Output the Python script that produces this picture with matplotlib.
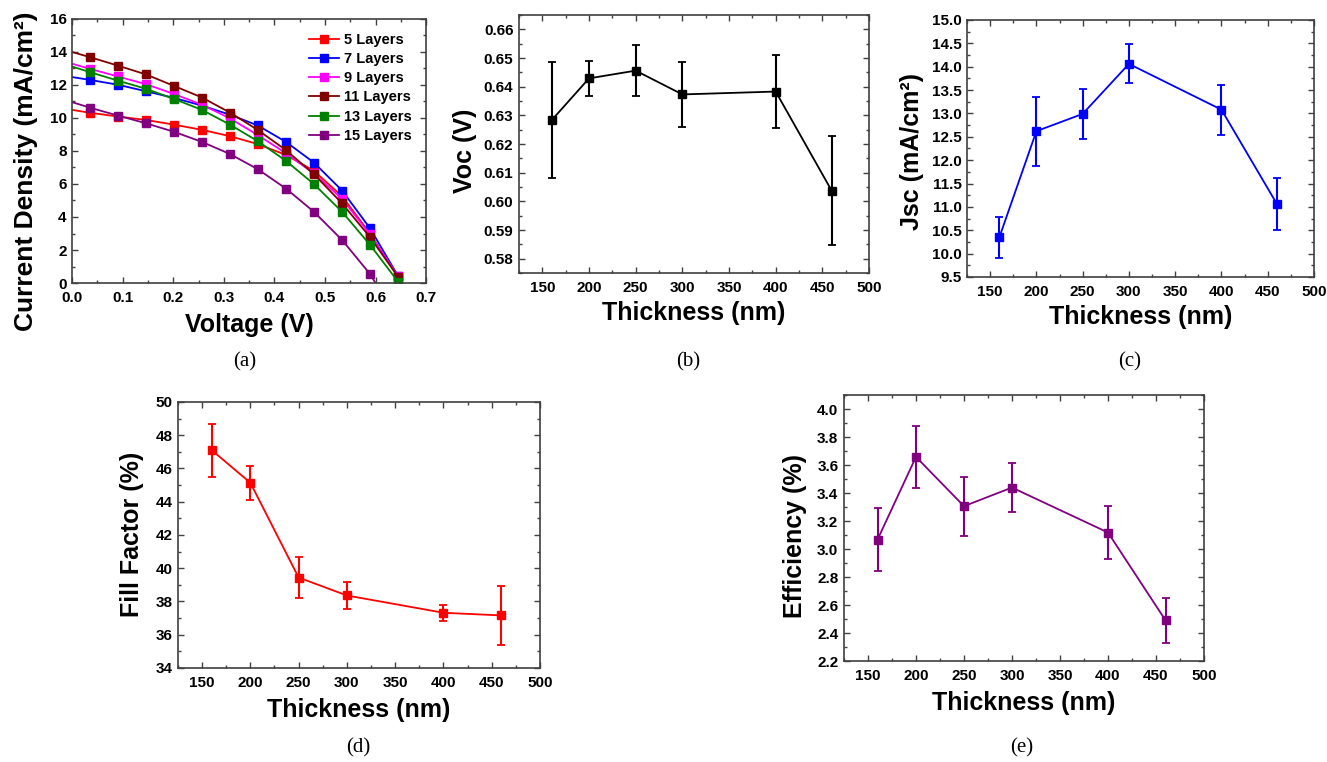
import matplotlib
matplotlib.use('Agg')
from matplotlib import pyplot as plt
from matplotlib.ticker import MultipleLocator, FormatStrFormatter

plt.rcParams['font.family'] = ['Liberation Sans', 'DejaVu Sans']
plt.rcParams['font.weight'] = 'bold'

# (a) J-V curves
voltage = [0.0, 0.035, 0.09, 0.146, 0.201, 0.257, 0.312, 0.367, 0.423, 0.478, 0.534, 0.589, 0.645]
voltage_15 = [0.0, 0.035, 0.09, 0.146, 0.201, 0.257, 0.312, 0.367, 0.423, 0.478, 0.534, 0.589, 0.6]
j_5 = [10.49, 10.32, 10.09, 9.88, 9.6, 9.28, 8.9, 8.42, 7.76, 6.8, 5.25, 3.0, 0.35]
j_7 = [12.48, 12.31, 12.02, 11.62, 11.22, 10.75, 10.2, 9.55, 8.55, 7.3, 5.6, 3.32, 0.4]
j_9 = [13.29, 12.98, 12.52, 12.05, 11.46, 10.8, 9.98, 8.97, 7.86, 6.64, 5.1, 2.95, 0.4]
j_11 = [14.0, 13.69, 13.18, 12.64, 11.95, 11.24, 10.33, 9.28, 8.05, 6.6, 4.82, 2.78, 0.36]
j_13 = [13.12, 12.78, 12.27, 11.77, 11.16, 10.49, 9.6, 8.6, 7.4, 6.0, 4.31, 2.32, 0.06]
j_15 = [10.96, 10.63, 10.15, 9.68, 9.17, 8.55, 7.82, 6.9, 5.72, 4.32, 2.6, 0.55, 0.0]

layer_labels = ['5 Layers', '7 Layers', '9 Layers', '11 Layers', '13 Layers', '15 Layers']
layer_colors = ['#ff0000', '#0000ff', '#ff00ff', '#800000', '#008000', '#800080']

# (b)-(e) vs thickness
thickness = [160, 200, 250, 300, 400, 460]
voc = [0.6283, 0.6429, 0.6456, 0.6373, 0.6383, 0.6037]
voc_err = [0.0202, 0.0062, 0.009, 0.0114, 0.0127, 0.019]
jsc = [10.35, 12.62, 12.99, 14.06, 13.08, 11.06]
jsc_err = [0.44, 0.74, 0.54, 0.415, 0.535, 0.565]
ff = [47.1, 45.14, 39.44, 38.36, 37.32, 37.16]
ff_err = [1.6, 1.03, 1.24, 0.81, 0.49, 1.76]
eff = [3.068, 3.658, 3.306, 3.439, 3.118, 2.49]
eff_err = [0.228, 0.22, 0.21, 0.173, 0.19, 0.16]

fig = plt.figure(figsize=(13.27, 7.62), dpi=100)

def style_axes(ax, xmaj, xmin, ymaj, ymin):
	for s in ax.spines.values():
		s.set_color('#404040')
		s.set_linewidth(1.2)
	ax.xaxis.set_major_locator(MultipleLocator(xmaj))
	ax.xaxis.set_minor_locator(MultipleLocator(xmin))
	ax.yaxis.set_major_locator(MultipleLocator(ymaj))
	ax.yaxis.set_minor_locator(MultipleLocator(ymin))
	ax.tick_params(which='both', direction='in', top=True, right=True,
		color='#404040', labelsize=11)
	ax.tick_params(axis='x', pad=5.5)
	ax.tick_params(axis='y', pad=4)
	ax.tick_params(which='major', length=4, width=1)
	ax.tick_params(which='minor', length=2.5, width=1)
	for lab in ax.get_xticklabels() + ax.get_yticklabels():
		lab.set_fontweight('bold')

label_font = dict(fontsize=18, fontweight='bold')

def place_labels(ax, xy, yx, yy):
	ax.xaxis.label.set_va('center')
	ax.yaxis.label.set_va('center')
	ax.xaxis.set_label_coords(0.5, xy)
	ax.yaxis.set_label_coords(yx, yy)

# panel (a)
ax = fig.add_axes([0.0543, 0.6286, 0.2668, 0.3465])
series = [j_5, j_7, j_9, j_11, j_13, j_15]
for i in range(len(series)):
	xs = voltage_15 if i == 5 else voltage
	ax.plot(xs, series[i], '-s', color=layer_colors[i], markersize=6, lw=1.3,
		markevery=list(range(1, len(xs) - 1)) + ([] if i == 5 else [len(xs) - 1]),
		label=layer_labels[i])
ax.set_xlim(0, 0.7)
ax.set_ylim(0, 16)
style_axes(ax, 0.1, 0.05, 2, 1)
ax.xaxis.set_major_formatter(FormatStrFormatter('%.1f'))
ax.set_xlabel('Voltage (V)', **label_font)
ax.set_ylabel('Current Density (mA/cm²)', fontsize=19, fontweight='bold')
place_labels(ax, -0.159, -0.13, 0.424)
ax.legend(loc='upper left', bbox_to_anchor=(0.668, 0.948), frameon=False,
	prop={'size': 10.5, 'weight': 'bold'}, handlelength=2.1, handletextpad=0.3,
	labelspacing=0.36, borderpad=0, borderaxespad=0)

def thickness_panel(rect, y, yerr, color, ylim, ymaj, ymin, fmt, ylabel, ycoords, xcoord_y):
	ax = fig.add_axes(rect)
	ax.errorbar(thickness, y, yerr=yerr, fmt='-s', color=color, ecolor=color,
		markersize=5.5, lw=1.3, elinewidth=1.5, capsize=3, capthick=1.3)
	ax.set_xlim(125, 500)
	ax.set_ylim(*ylim)
	style_axes(ax, 50, 25, ymaj, ymin)
	ax.yaxis.set_major_formatter(FormatStrFormatter(fmt))
	ax.set_xlabel('Thickness (nm)', **label_font)
	ax.set_ylabel(ylabel, **label_font)
	place_labels(ax, xcoord_y, ycoords[0], ycoords[1])
	return ax

thickness_panel([0.3911, 0.6417, 0.2638, 0.3386], voc, voc_err, 'black', (0.575, 0.665),
	0.01, 0.005, '%.2f', 'Voc (V)', (-0.154, 0.473), -0.155)
thickness_panel([0.7287, 0.6365, 0.2615, 0.3373], jsc, jsc_err, '#0000ff', (9.5, 15.0),
	0.5, 0.25, '%.1f', 'Jsc (mA/cm²)', (-0.158, 0.49), -0.156)
thickness_panel([0.1341, 0.1234, 0.2728, 0.3491], ff, ff_err, '#ff0000', (34, 50),
	2, 1, '%d', 'Fill Factor (%)', (-0.127, 0.504), -0.158)
thickness_panel([0.6360, 0.1325, 0.2713, 0.3491], eff, eff_err, '#800080', (2.2, 4.1),
	0.2, 0.1, '%.1f', 'Efficiency (%)', (-0.136, 0.47), -0.158)

panel_tags = ['(a)', '(b)', '(c)', '(d)', '(e)']
tag_x = [245, 688, 1130, 358, 1022]
tag_y = [362, 362, 362, 748, 748]
for t, px, py in zip(panel_tags, tag_x, tag_y):
	fig.text(px / 1327, 1 - py / 762, t, ha='center', va='center', fontsize=15,
		family='Liberation Serif', fontweight='normal')

plt.savefig('out.png', dpi=100)
